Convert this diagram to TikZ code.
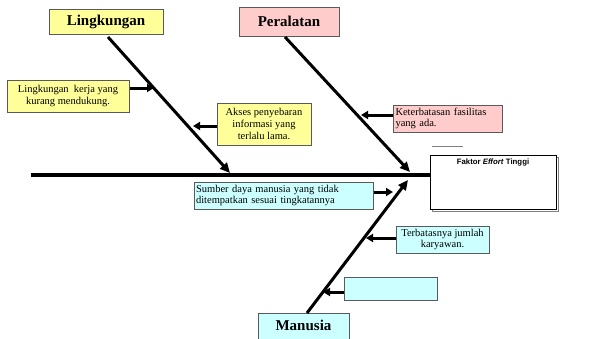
\documentclass[tikz,border=0pt]{standalone}
\usepackage{fontspec}
\setmainfont{Liberation Serif}
\newfontfamily\headsans{Liberation Sans}
\usetikzlibrary{arrows.meta}
\definecolor{yellowbox}{HTML}{FFFF99}
\definecolor{pinkbox}{HTML}{FFCCCC}
\definecolor{cyanbox}{HTML}{CCFFFF}
\definecolor{boxline}{HTML}{5A5A5A}
\tikzset{
  x=1pt, y=-1pt,
  causebox/.style={draw=boxline, line width=1pt, inner sep=2pt, font=\fontsize{10.5}{11.8}\selectfont},
  catbox/.style={draw=boxline, line width=1pt, inner sep=0pt, font=\fontsize{15}{18}\selectfont\bfseries},
  bone/.style={line width=3pt, -{Triangle[length=10pt,width=9pt]}},
  twig/.style={line width=3pt, -{Triangle[length=7pt,width=8pt]}},
}
\begin{document}
\begin{tikzpicture}
\useasboundingbox (0,0) rectangle (589,338);

% category headings
\node[catbox, fill=yellowbox, minimum width=114, minimum height=25] (ling) at (106,21.5) {Lingkungan};
\node[catbox, fill=pinkbox, minimum width=100, minimum height=29] (peral) at (289,21.5) {Peralatan};
\node[catbox, fill=cyanbox, minimum width=91, minimum height=34, anchor=north] (man) at (303.5,313) {};
\node[font=\fontsize{15}{18}\selectfont\bfseries] (mantext) at (303.5,325) {Manusia};

% effect box with shadow
\node[draw=gray, line width=1pt, minimum width=126, minimum height=54, inner sep=0pt] (effshadow) at (495,184) {};
\node[draw=black, line width=0.8pt, fill=white, minimum width=126, minimum height=54, inner sep=0pt] (effect) at (493,182) {};
\node[font=\headsans\fontsize{7.8}{9}\selectfont\bfseries] (efftext) at (493,162) {Faktor \textit{Effort} Tinggi};
\coordinate (tickL) at (432,146);
\coordinate (tickR) at (463,146);
\draw[gray, line width=0.8pt] (tickL) -- (tickR);

% spine
\coordinate (tail) at (31,175);
\draw[line width=3.5pt] (tail) -- (effect.west |- tail);

% main bones
\coordinate (lingtop) at (108,37);
\coordinate (lingtip) at (230,173);
\coordinate (peraltop) at (285,37);
\coordinate (peraltip) at (410,172);
\coordinate (mantop) at (307,313);
\coordinate (mantip) at (408,180);
\draw[bone] (lingtop) -- (lingtip);
\draw[bone] (peraltop) -- (peraltip);
\draw[bone] (mantop) -- (mantip);

% causes
\node[causebox, fill=yellowbox, minimum width=122, minimum height=32, align=center] (c1) at (68,96) {Lingkungan \ kerja yang\\kurang mendukung.};
\node[causebox, fill=yellowbox, minimum width=94, minimum height=42, align=center] (c2) at (264,124) {Akses penyebaran\\informasi yang\\terlalu lama.};
\node[causebox, fill=pinkbox, minimum width=109, minimum height=27, text width=104pt, align=left, inner xsep=1.5pt] (c3) at (447.5,118.5) {Keterbatasan fasilitas\\yang ada.};
\node[causebox, fill=cyanbox, minimum width=179, minimum height=27, text width=175pt, align=left, inner xsep=1.5pt] (c4) at (283.5,195.5) {Sumber daya manusia yang tidak\\ditempatkan sesuai tingkatannya};
\node[causebox, fill=cyanbox, minimum width=93, minimum height=27, align=center] (c5) at (442.5,239.5) {Terbatasnya jumlah\\karyawan.};
\node[causebox, fill=cyanbox, minimum width=93, minimum height=23] (c6) at (390.5,288.5) {};

% cause arrows
\coordinate (t1) at (154,88);
\coordinate (t2) at (193,126);
\coordinate (t3) at (361,115);
\coordinate (t4) at (393,192);
\coordinate (t5) at (366,238);
\coordinate (t6) at (323,292);
\draw[twig] (c1.east |- t1) -- (t1);
\draw[twig] (c2.west |- t2) -- (t2);
\draw[twig] (c3.west |- t3) -- (t3);
\draw[twig] (c4.east |- t4) -- (t4);
\draw[twig] (c5.west |- t5) -- (t5);
\draw[twig] (c6.west |- t6) -- (t6);
\end{tikzpicture}
\end{document}
